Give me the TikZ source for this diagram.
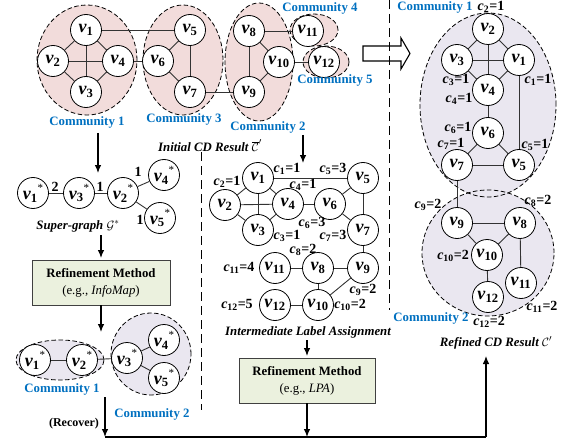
\documentclass[tikz,border=0pt]{standalone}
\usepackage{fontspec}
\setmainfont{Liberation Serif}
\usetikzlibrary{arrows.meta}
\definecolor{cblue}{HTML}{0070C0}
\definecolor{pinkf}{HTML}{F2DCDB}
\definecolor{lavf}{HTML}{EAE7F0}
\definecolor{boxf}{HTML}{EBF1DE}
\newcommand{\nv}[1]{\textbf{\textit{v}}\textsubscript{\textbf{#1}}}
\newcommand{\nvs}[1]{\textbf{\textit{v}}\textsubscript{\textbf{#1}}\raisebox{1.0ex}{\fontsize{11}{11}\selectfont *}}
\newcommand{\clab}[2]{\textbf{\textit{c}}\textsubscript{\textbf{#1}}\textbf{=#2}}
\tikzset{
 vnode/.style={circle,draw,fill=white,line width=0.8pt,minimum size=31pt,inner sep=0pt,font=\fontsize{18}{18}\selectfont},
 edge/.style={line width=0.9pt,draw=black!80},
 commline/.style={draw=black,line width=0.8pt,dash pattern=on 4.5pt off 2.5pt},
 clabel/.style={inner sep=0pt,font=\fontsize{14}{14}\selectfont},
 ctext/.style={inner sep=0pt,text=cblue,font=\bfseries\fontsize{12.8}{13}\selectfont},
 ttl/.style={inner sep=0pt,font=\bfseries\itshape\fontsize{12.8}{13}\selectfont},
 wlabel/.style={inner sep=0pt,font=\bfseries\fontsize{14}{14}\selectfont},
 refbox/.style={draw=black!75,fill=boxf,line width=0.9pt,minimum width=138pt,minimum height=45pt,align=center,font=\fontsize{12.8}{17}\selectfont},
 arr/.style={-{Latex[length=8pt,width=6.5pt]},line width=1.1pt},
 sepline/.style={line width=1pt,dash pattern=on 9pt off 5pt},
}
\begin{document}
\begin{tikzpicture}[x=1pt,y=-1pt]
\useasboundingbox (0,0) rectangle (571,444);

% ---------- community ellipses ----------
\draw[commline,fill=pinkf] (87,60) ellipse [x radius=50pt,y radius=55pt];
\draw[commline,fill=pinkf] (183,60) ellipse [x radius=40pt,y radius=55pt];
\draw[commline,fill=pinkf] (259,62) ellipse [x radius=34pt,y radius=59pt];
\draw[commline,fill=pinkf] (314,30) ellipse [x radius=24pt,y radius=16pt];
\draw[commline,fill=pinkf] (326,62) ellipse [x radius=23pt,y radius=16pt];

\draw[commline,fill=lavf] (60,360) ellipse [x radius=44pt,y radius=20pt];
\draw[commline,fill=lavf] (151,354) ellipse [x radius=40pt,y radius=41pt];

\fill[lavf] (488,105) ellipse [x radius=68pt,y radius=92pt];
\fill[lavf] (488,253) ellipse [x radius=66pt,y radius=63pt];
\draw[commline] (488,105) ellipse [x radius=68pt,y radius=92pt];
\draw[commline] (488,253) ellipse [x radius=66pt,y radius=63pt];

% ---------- separators and big arrow ----------
\draw[line width=1.1pt,fill=white] (363,46) -- (401,46) -- (401,38) -- (410,53.5) -- (401,69) -- (401,61) -- (363,61) -- cycle;
\coordinate (sepAtop) at (201,152);
\coordinate (sepAbot) at (201,410);
\coordinate (sepBtop) at (389,0);
\coordinate (sepBbot) at (389,310);
\draw[sepline] (sepAtop) -- (sepAbot);
\draw[sepline] (sepBtop) -- (sepBbot);

% ---------- top graph (initial CD result) ----------
\foreach \n/\x/\y in {1/86/30,2/53/61,3/86/92,4/118/61,5/190/30,6/158/61,7/190/92,8/249/31,9/249/92,10/279/62,11/308/31,12/324/62}
  \node[vnode] (a\n) at (\x,\y) {\nv{\n}};
\foreach \u/\v in {1/2,1/4,1/3,2/4,2/3,3/4,4/6,1/5,5/6,5/7,6/7,7/9,8/9,8/10,9/10,8/11,10/12}
  \draw[edge] (a\u) -- (a\v);
\node[ctext] (ta1) at (87,122) {Community 1};
\node[ctext] (ta3) at (184,119) {Community 3};
\node[ctext] (ta2) at (268,127) {Community 2};
\node[ctext] (ta4) at (320,8) {Community 4};
\node[ctext] (ta5) at (335,80) {Community 5};
\node[ttl] (tinit) at (210,146) {Initial CD Result $\overline{\mathcal{C}}'$};

% ---------- super-graph ----------
\foreach \n/\x/\y in {1/33/193,3/79/193,2/123/193,4/164/175,5/160/218}
  \node[vnode] (s\n) at (\x,\y) {\nvs{\n}};
\foreach \u/\v in {1/3,3/2,2/4,2/5}
  \draw[edge] (s\u) -- (s\v);
\node[wlabel] (w1) at (55,187) {2};
\node[wlabel] (w2) at (100,187) {1};
\node[wlabel] (w3) at (138,172) {1};
\node[wlabel] (w4) at (140,220) {1};
\node[ttl] (tsg) at (78,226) {Super-graph $\mathcal{G}^{*}$};
\coordinate (arA1) at (98,133);
\coordinate (arA2) at (98,173);
\draw[arr] (arA1) -- (arA2);
\coordinate (arB1) at (101,235);
\draw[arr] (arB1) -- (101,258);

\node[refbox] (box1) at (101,282.5) {\textbf{Refinement Method}\\(e.g., \textit{InfoMap})};
\coordinate (arC2) at (101,332);
\draw[arr] (box1.south) -- (arC2);

% ---------- result of refinement on super-graph ----------
\foreach \n/\x/\y in {1/35/360,2/82/360,3/127/358,4/164/340,5/164/378}
  \node[vnode] (r\n) at (\x,\y) {\nvs{\n}};
\foreach \u/\v in {1/2,2/3,3/4,3/5}
  \draw[edge] (r\u) -- (r\v);
\node[ctext] (tr1) at (62,389) {Community 1};
\node[ctext] (tr2) at (152,414) {Community 2};
\node[inner sep=0pt,font=\bfseries\fontsize{12}{12}\selectfont] (trec) at (74,424) {(Recover)};

% ---------- middle graph ----------
\foreach \n/\x/\y in {1/258/178,2/225/205,3/258/230,4/288/204,5/363/178,6/330/204,7/363/230,8/318/268,9/363/268,10/318/305,11/275/268,12/275/305}
  \node[vnode] (m\n) at (\x,\y) {\nv{\n}};
\foreach \u/\v in {1/5,1/2,1/4,1/3,2/4,2/3,3/4,4/6,6/5,6/7,5/7,7/9,11/8,8/9,8/10,9/10,12/10}
  \draw[edge] (m\u) -- (m\v);
\foreach \i/\val/\x/\y in {1/1/287/169,5/3/333/169,2/1/227/182,4/1/303/185,6/3/312/223,3/1/287/236,7/3/333/236,8/2/303/250,11/4/239/268,9/2/363/290,12/5/237/305,10/2/350/305}
  \node[clabel] (mc\i) at (\x,\y) {\clab{\i}{\val}};
\coordinate (arD1) at (303,135);
\coordinate (arD2) at (303,163);
\draw[arr] (arD1) -- (arD2);
\node[ttl] (tint) at (308,332) {Intermediate Label Assignment};
\coordinate (arE1) at (307,340);
\draw[arr] (arE1) -- (307,356);
\node[refbox,minimum width=136pt] (box2) at (307,380.5) {\textbf{Refinement Method}\\(e.g., \textit{LPA})};

% ---------- refined result ----------
\foreach \n/\x/\y in {2/488/29,3/457/60,1/519/60,4/488/90,6/488/133,7/457/165,5/519/165,9/457/223,8/520/223,10/487/255,11/521/283,12/488/297}
  \node[vnode] (f\n) at (\x,\y) {\nv{\n}};
\foreach \u/\v in {2/3,2/1,2/4,3/1,3/4,1/4,1/5,4/6,6/7,6/5,7/5,7/9,9/8,9/10,8/10,8/11,10/12}
  \draw[edge] (f\u) -- (f\v);
\foreach \i/\val/\x/\y in {2/1/491/7,3/1/456/80,1/1/538/80,4/1/459/99,6/1/458/128,7/1/451/144,5/1/535/145,9/2/428/205,8/2/538/201,10/2/453/256,11/2/542/307,12/2/489/322}
  \node[clabel] (fc\i) at (\x,\y) {\clab{\i}{\val}};
\node[ctext] (tf1) at (435,7) {Community 1};
\node[ctext] (tf2) at (431,318) {Community 2};
\node[ttl] (tref) at (496,343) {Refined CD Result $\mathcal{C}'$};

% ---------- recover / final arrows ----------
\coordinate (recTop) at (105,397);
\coordinate (recBot) at (105,437);
\coordinate (corner) at (486,437);
\coordinate (finTip) at (486,356);
\draw[arr] (recTop) -- (recBot);
\draw[line width=1.1pt] (recBot) -- (corner);
\draw[arr] (corner) -- (finTip);
\coordinate (lpaTip) at (307,437);
\draw[arr] (box2.south) -- (lpaTip);
\end{tikzpicture}
\end{document}
